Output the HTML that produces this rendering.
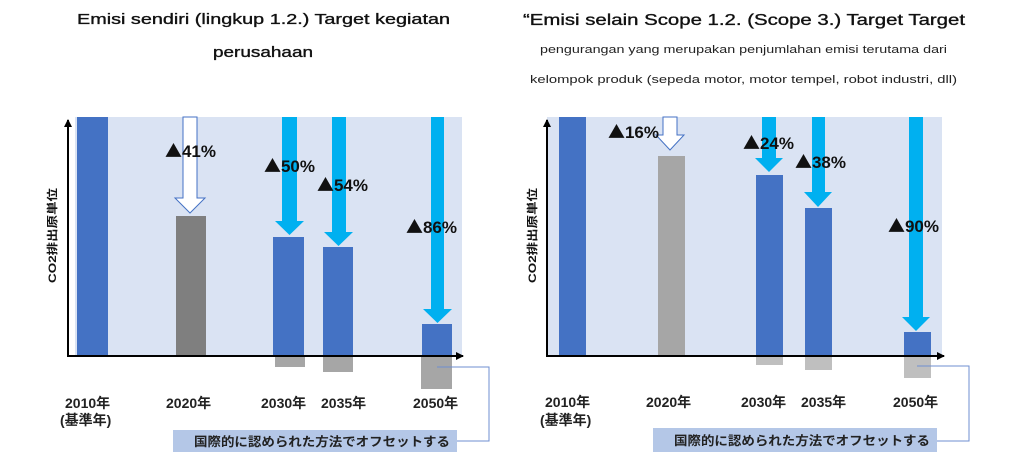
<!DOCTYPE html>
<html><head><meta charset="utf-8"><style>
html,body{margin:0;padding:0;background:#fff;width:1024px;height:468px;overflow:hidden}
svg{display:block}
.t{font-family:"Liberation Sans","Noto Sans CJK JP",sans-serif}
.tri{font-family:"Noto Sans CJK JP",sans-serif}
</style></head><body>
<svg width="1024" height="468" viewBox="0 0 1024 468" xmlns="http://www.w3.org/2000/svg" class="t">
<defs>
<marker id="ah" markerWidth="8" markerHeight="8" refX="7" refY="4" orient="auto" markerUnits="userSpaceOnUse"><path d="M0,0 L8,4 L0,8 z" fill="#000"/></marker>
</defs>
<!-- Titles -->
<g stroke="#111" stroke-width="0.35">
<text x="77" y="24" font-size="15" fill="#111" textLength="373" lengthAdjust="spacingAndGlyphs">Emisi sendiri (lingkup 1.2.) Target kegiatan</text>
<text x="213" y="57" font-size="15" fill="#111" textLength="100" lengthAdjust="spacingAndGlyphs">perusahaan</text>
<text x="523" y="25" font-size="16" fill="#111" textLength="442" lengthAdjust="spacingAndGlyphs">“Emisi selain Scope 1.2. (Scope 3.) Target Target</text>
</g>
<text x="540" y="53" font-size="11" fill="#222" textLength="407" lengthAdjust="spacingAndGlyphs">pengurangan yang merupakan penjumlahan emisi terutama dari</text>
<text x="530" y="83" font-size="11" fill="#222" textLength="427" lengthAdjust="spacingAndGlyphs">kelompok produk (sepeda motor, motor tempel, robot industri, dll)</text>

<!-- LEFT CHART -->
<rect x="75" y="117" width="387" height="239" fill="#dae3f3"/>
<rect x="77" y="117" width="31" height="239" fill="#4472c4"/>
<rect x="176" y="216" width="30" height="140" fill="#7f7f7f"/>
<rect x="273" y="237" width="31" height="119" fill="#4472c4"/>
<rect x="275" y="356" width="30" height="11" fill="#a6a6a6"/>
<rect x="323" y="247" width="30" height="109" fill="#4472c4"/>
<rect x="323" y="356" width="30" height="16" fill="#a6a6a6"/>
<rect x="422" y="324" width="30" height="32" fill="#4472c4"/>
<rect x="421" y="356" width="31" height="33" fill="#a6a6a6"/>
<path d="M183,117 L197,117 L197,198 L205,198 L190,213 L175,198 L183,198 z" fill="#fff" stroke="#4472c4" stroke-width="1"/>
<path d="M282,117 L297,117 L297,221 L304,221 L289.5,235 L275,221 L282,221 z" fill="#00b0f0"/>
<path d="M332,117 L346,117 L346,232 L353,232 L338.5,246 L324,232 L332,232 z" fill="#00b0f0"/>
<path d="M431,117 L444,117 L444,309 L452,309 L437.5,323 L423,309 L431,309 z" fill="#00b0f0"/>
<line x1="68" y1="356" x2="68" y2="120" stroke="#000" stroke-width="2" marker-end="url(#ah)"/>
<line x1="67" y1="356" x2="463" y2="356" stroke="#000" stroke-width="2" marker-end="url(#ah)"/>
<g font-size="17" font-weight="bold" fill="#111">
<text x="165" y="157" textLength="51" lengthAdjust="spacingAndGlyphs"><tspan class="tri">▲</tspan>41%</text>
<text x="264" y="172" textLength="51" lengthAdjust="spacingAndGlyphs"><tspan class="tri">▲</tspan>50%</text>
<text x="317" y="191" textLength="51" lengthAdjust="spacingAndGlyphs"><tspan class="tri">▲</tspan>54%</text>
<text x="406" y="233" textLength="51" lengthAdjust="spacingAndGlyphs"><tspan class="tri">▲</tspan>86%</text>
</g>
<text transform="translate(56,283) rotate(-90)" font-size="11" font-weight="bold" fill="#111" textLength="95" lengthAdjust="spacingAndGlyphs">CO2排出原単位</text>
<g font-size="14" font-weight="bold" fill="#222">
<text x="65" y="408">2010年</text>
<text x="60" y="425">(基準年)</text>
<text x="166" y="408">2020年</text>
<text x="261" y="408">2030年</text>
<text x="321" y="408">2035年</text>
<text x="413" y="408">2050年</text>
</g>
<rect x="173" y="430" width="284" height="22" fill="#b4c7e7"/>
<text x="194" y="446" font-size="12.5" font-weight="bold" fill="#222" textLength="256" lengthAdjust="spacingAndGlyphs">国際的に認められた方法でオフセットする</text>
<polyline points="457,441 489,441 489,367 437,367" fill="none" stroke="#6f8fd0" stroke-width="1"/>

<!-- RIGHT CHART -->
<rect x="547" y="117" width="395" height="239" fill="#dae3f3"/>
<rect x="559" y="117" width="27" height="239" fill="#4472c4"/>
<rect x="658" y="156" width="27" height="200" fill="#a6a6a6"/>
<rect x="756" y="175" width="27" height="181" fill="#4472c4"/>
<rect x="756" y="356" width="27" height="9" fill="#bfbfbf"/>
<rect x="805" y="208" width="27" height="148" fill="#4472c4"/>
<rect x="805" y="356" width="27" height="14" fill="#bfbfbf"/>
<rect x="904" y="332" width="27" height="24" fill="#4472c4"/>
<rect x="904" y="356" width="27" height="22" fill="#bfbfbf"/>
<path d="M663,117 L677,117 L677,135 L684,135 L670,150 L656,135 L663,135 z" fill="#fff" stroke="#4472c4" stroke-width="1"/>
<path d="M762,117 L776,117 L776,158 L783,158 L769,172 L755,158 L762,158 z" fill="#00b0f0"/>
<path d="M812,117 L825,117 L825,192 L832,192 L818,207 L804,192 L812,192 z" fill="#00b0f0"/>
<path d="M909,117 L923,117 L923,317 L930,317 L916,331 L902,317 L909,317 z" fill="#00b0f0"/>
<line x1="547" y1="356" x2="547" y2="120" stroke="#000" stroke-width="2" marker-end="url(#ah)"/>
<line x1="546" y1="356" x2="944" y2="356" stroke="#000" stroke-width="2" marker-end="url(#ah)"/>
<g font-size="17" font-weight="bold" fill="#111">
<text x="608" y="138" textLength="51" lengthAdjust="spacingAndGlyphs"><tspan class="tri">▲</tspan>16%</text>
<text x="743" y="149" textLength="51" lengthAdjust="spacingAndGlyphs"><tspan class="tri">▲</tspan>24%</text>
<text x="795" y="168" textLength="51" lengthAdjust="spacingAndGlyphs"><tspan class="tri">▲</tspan>38%</text>
<text x="888" y="232" textLength="51" lengthAdjust="spacingAndGlyphs"><tspan class="tri">▲</tspan>90%</text>
</g>
<text transform="translate(536,283) rotate(-90)" font-size="11" font-weight="bold" fill="#111" textLength="95" lengthAdjust="spacingAndGlyphs">CO2排出原単位</text>
<g font-size="14" font-weight="bold" fill="#222">
<text x="545" y="407">2010年</text>
<text x="540" y="425">(基準年)</text>
<text x="646" y="407">2020年</text>
<text x="741" y="407">2030年</text>
<text x="801" y="407">2035年</text>
<text x="893" y="407">2050年</text>
</g>
<rect x="653" y="428" width="284" height="24" fill="#b4c7e7"/>
<text x="674" y="445" font-size="12.5" font-weight="bold" fill="#222" textLength="256" lengthAdjust="spacingAndGlyphs">国際的に認められた方法でオフセットする</text>
<polyline points="937,441 969,441 969,366 917,366" fill="none" stroke="#6f8fd0" stroke-width="1"/>
</svg>
</body></html>
